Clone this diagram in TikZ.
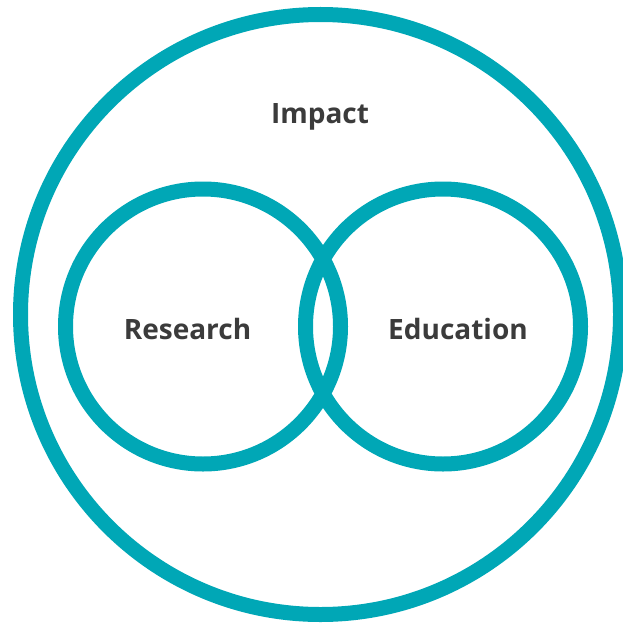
\documentclass[tikz,border=0pt]{standalone}
\usepackage{fontspec}
\setsansfont{Open Sans}
\usepackage{xcolor}
\definecolor{ringteal}{HTML}{00A7B6}
\definecolor{labelgray}{HTML}{3B3B3B}

\begin{document}
\begin{tikzpicture}[x=1pt,y=-1pt,
		ring/.style={draw=ringteal,line width=15pt},
		lbl/.style={anchor=base,text=labelgray,font=\sffamily\bfseries\fontsize{28}{30}\selectfont,inner sep=0pt}]
		\useasboundingbox (0,0) rectangle (623,623);
		\def\bigr{300}
		\def\smallr{137.5}
		\coordinate (O) at (320.5,314.5);
		\coordinate (R) at (203,326.5);
		\coordinate (E) at (443,326.5);
		\draw[ring] (O) circle [radius=\bigr pt];
		\draw[ring] (R) circle [radius=\smallr pt];
		\draw[ring] (E) circle [radius=\smallr pt];
		
		\node[lbl] (impact) at (320,123) {Impact};
		\node[lbl] (research) at (187.5,339) {Research};
		\node[lbl] (education) at (458,339) {Education};
		\end{tikzpicture}
\end{document}
